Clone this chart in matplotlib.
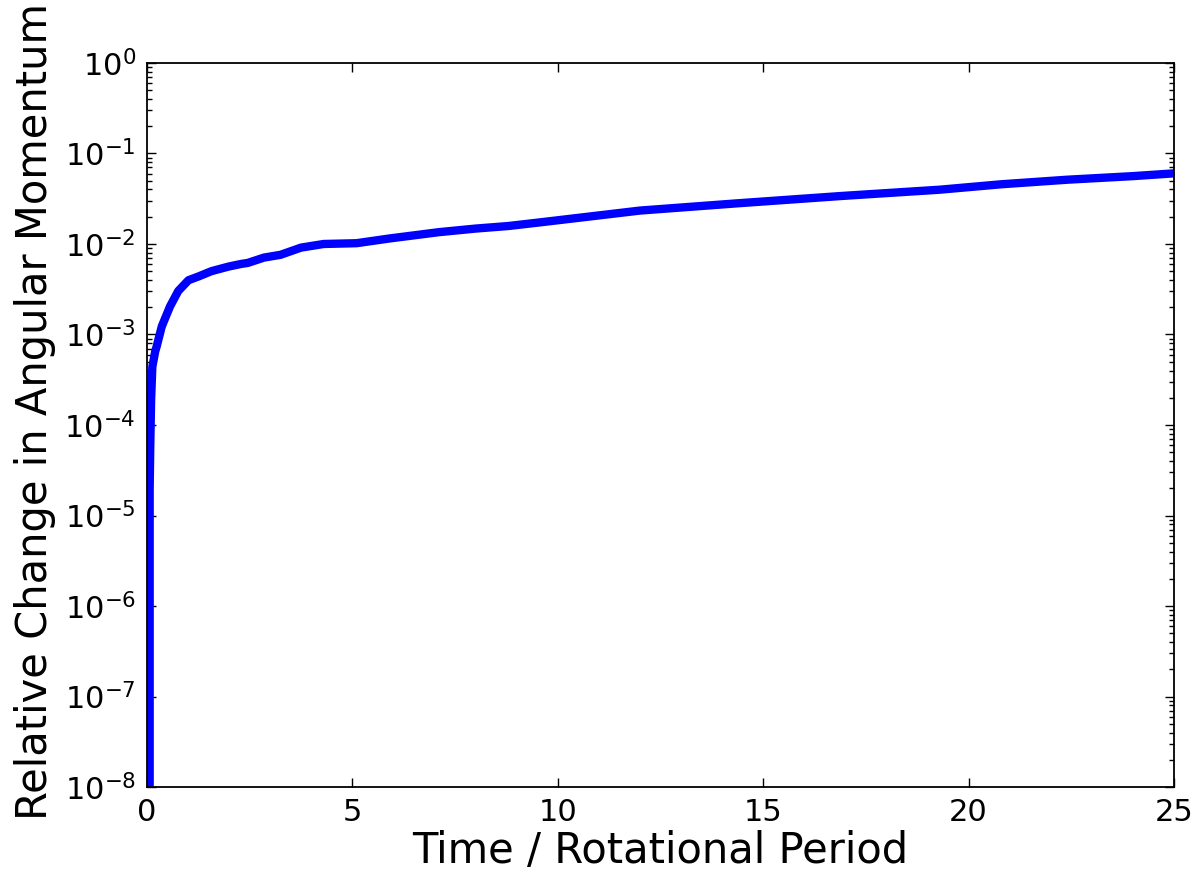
import numpy as np
import matplotlib
matplotlib.use('Agg')
import matplotlib.pyplot as plt
from matplotlib.ticker import LogLocator, FixedLocator, FuncFormatter, NullFormatter

# time in rotational periods, and relative change in angular momentum
time = [0.0, 0.065, 0.08, 0.1, 0.13, 0.2, 0.236, 0.36, 0.56, 0.76, 1.01, 1.25,
        1.57, 1.98, 2.3, 2.45, 2.85, 3.25, 3.75, 4.3, 5.1, 5.9, 7.1, 8.0,
        8.8, 9.6, 12.0, 14.4, 16.9, 19.3, 20.8, 22.4, 24.0, 25.0]
dL = [0.0, 2.0e-5, 6.0e-5, 1.9e-4, 4.4e-4, 6.5e-4, 7.4e-4, 1.23e-3, 2.04e-3, 3.02e-3,
      3.98e-3, 4.37e-3, 5.01e-3, 5.62e-3, 6.03e-3, 6.17e-3, 7.08e-3, 7.59e-3, 9.12e-3,
      1.0e-2, 1.02e-2, 1.15e-2, 1.35e-2, 1.48e-2, 1.58e-2, 1.74e-2, 2.34e-2, 2.82e-2,
      3.39e-2, 3.98e-2, 4.57e-2, 5.13e-2, 5.62e-2, 6.03e-2]

x_ticks = [0, 5, 10, 15, 20, 25]

fig = plt.figure(figsize=(12.02, 8.77), dpi=100)
ax = fig.add_axes([0.1223, 0.1026, 0.8544, 0.8256])

ax.plot(time, dL, color='#0000ff', linewidth=6.0)
ax.set_yscale('log')
ax.set_xlim(0, 25)
ax.set_ylim(1e-8, 1e0)

ax.xaxis.set_major_locator(FixedLocator(x_ticks))
ax.yaxis.set_major_locator(LogLocator(base=10, numticks=20))
ax.yaxis.set_minor_locator(LogLocator(base=10, subs=np.arange(2, 10), numticks=20))
ax.yaxis.set_minor_formatter(NullFormatter())

def log_fmt(v, pos):
    e = int(round(np.log10(v)))
    return r'$\mathdefault{10^{%d}}$' % e

ax.yaxis.set_major_formatter(FuncFormatter(log_fmt))

ax.tick_params(which='both', direction='in', top=True, right=True, labelsize=22, color='black')
ax.tick_params(which='major', length=6.5, width=1.0, pad=8)
ax.tick_params(which='minor', length=3.5, width=1.0)
for s in ax.spines.values():
    s.set_linewidth(1.3)

ax.set_xlabel('Time / Rotational Period', fontsize=30, labelpad=2)
ax.set_ylabel('Relative Change in Angular Momentum', fontsize=30)
ax.yaxis.set_label_coords(-0.0886, 0.519)

fig.savefig('out.png', dpi=100)
